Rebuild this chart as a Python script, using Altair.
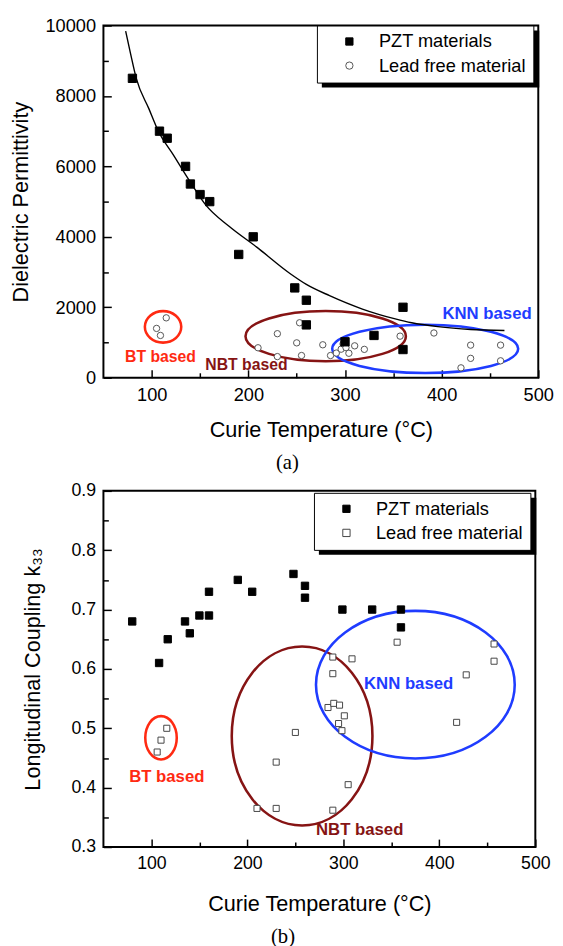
import altair as alt
import pandas as pd

FONT = "Liberation Sans"
SERIES = ["PZT materials", "Lead free material"]

# ---------------- panel (a): dielectric permittivity ----------------
pzt_a_temp = [80, 108, 116, 135, 140, 150, 160, 190, 205, 248, 260, 260, 300, 330, 360, 360]
pzt_a_perm = [8500, 7000, 6800, 6000, 5500, 5200, 5000, 3500, 4000, 2550, 2200, 1500, 1020, 1200, 2000, 800]

lf_a_temp = [105, 109, 115, 210, 230, 230, 250, 253, 255, 277, 285, 291, 296, 298, 301, 304, 310, 320,
             357, 392, 420, 430, 430, 461, 461]
lf_a_perm = [1400, 1200, 1700, 850, 1250, 600, 990, 1560, 630, 935, 630, 700, 810, 960, 855, 694, 905, 805,
             1180, 1270, 280, 925, 550, 925, 480]

fit_temp = [73, 78, 84, 97, 107, 122, 140, 156, 180, 209, 243, 260, 284, 318, 352, 369, 396, 430, 465]
fit_perm = [9840, 9210, 8500, 7640, 6990, 6340, 5550, 4900, 4300, 3700, 2960, 2650, 2330, 1950, 1670,
            1560, 1450, 1370, 1340]

groups_a = ["BT", "NBT", "KNN"]
groups_a_temp = [111.7, 280, 383]
groups_a_val = [1444, 1180, 819]

labels_a = ["BT based", "NBT based", "KNN based"]
labels_a_temp = [109, 198, 447]
labels_a_val = [583, 361, 1805]

# ---------------- panel (b): coupling k33 ----------------
pzt_b_temp = [80, 108, 117, 135, 140, 150, 160, 160, 190, 205, 248, 260, 260, 299, 330, 360, 360]
pzt_b_k33 = [0.68, 0.61, 0.65, 0.68, 0.66, 0.69, 0.69, 0.73, 0.75, 0.73, 0.76, 0.74, 0.72, 0.70, 0.70,
             0.70, 0.67]

lf_b_temp = [106, 110, 116, 210, 230, 230, 250, 289, 309, 289, 284, 290, 296, 301, 295, 298.5, 305, 289,
             356, 418, 428, 457, 457]
lf_b_k33 = [0.46, 0.48, 0.50, 0.365, 0.365, 0.443, 0.493, 0.62, 0.617, 0.592, 0.535, 0.542, 0.539, 0.521,
            0.508, 0.496, 0.405, 0.362, 0.645, 0.51, 0.59, 0.642, 0.613]

groups_b = ["BT", "NBT", "KNN"]
groups_b_temp = [110, 257, 375]
groups_b_val = [0.484, 0.487, 0.5735]

labels_b = ["BT based", "NBT based", "KNN based"]
labels_b_temp = [116, 317, 368]
labels_b_val = [0.418, 0.328, 0.575]

x_major = [100, 200, 300, 400, 500]
x_minor = [150, 250, 350, 450]
ya_major = [0, 2000, 4000, 6000, 8000, 10000]
ya_minor = [1000, 3000, 5000, 7000, 9000]
yb_major = [0.3, 0.4, 0.5, 0.6, 0.7, 0.8, 0.9]
yb_minor = [0.35, 0.45, 0.55, 0.65, 0.75, 0.85]

# ---------------- styles ----------------
GROUP_COLOR = {"BT": "#ff2a12", "NBT": "#861414", "KNN": "#1f3cff"}
# outline half-widths / half-heights in pixels
ELL_A = {"BT": (18.5, 16), "NBT": (81.5, 25.5), "KNN": (94.5, 24.5)}
ELL_B = {"BT": (16, 22), "NBT": (71.5, 91), "KNN": (101, 75)}

W_A, H_A = 442, 358
W_B, H_B = 439, 362


def ellipse_shape(a, b):
    m = max(a, b)
    A, B = a / m, b / m
    k = 0.5523
    f = lambda v: f"{v:.4f}"
    path = (f"M {f(-A)} 0 C {f(-A)} {f(-k*B)} {f(-k*A)} {f(-B)} 0 {f(-B)} "
            f"C {f(k*A)} {f(-B)} {f(A)} {f(-k*B)} {f(A)} 0 "
            f"C {f(A)} {f(k*B)} {f(k*A)} {f(B)} 0 {f(B)} "
            f"C {f(-k*A)} {f(B)} {f(-A)} {f(k*B)} {f(-A)} 0 Z")
    return path, (2 * m) ** 2


def tick_x_axis(values, size, height):
    return alt.Axis(orient="top", offset=-height, values=values, labels=False, domain=False,
                    grid=False, ticks=True, tickSize=size, tickWidth=1.5, tickColor="black",
                    title=None)


def tick_y_axis(values, size, width):
    return alt.Axis(orient="right", offset=-width, values=values, labels=False, domain=False,
                    grid=False, ticks=True, tickSize=size, tickWidth=1.5, tickColor="black",
                    title=None)


def legend_def(lx, ly):
    return alt.Legend(title=None, orient="none", legendX=lx, legendY=ly, fillColor="white",
                      strokeColor="black", padding=7, symbolSize=55, symbolStrokeWidth=1,
                      symbolOffset=16.75, labelOffset=20.75, labelFont=FONT, labelFontSize=18.5,
                      labelColor="black", rowPadding=5.5)


def panel(pzt_t, pzt_v, lf_t, lf_v, g_names, g_t, g_v, ell, l_names, l_t, l_v,
          yscale, y_major, y_minor, y_fmt, y_title, width, height, lf_shape, lf_stroke,
          pzt_size, lf_size, label_fs, tick_fs, y_title_pad, x_title_pad, legend_xy,
          shadow, caption, caption_dx, fit=None):
    xscale = alt.Scale(domain=[50, 500], nice=False, zero=False)
    leg = legend_def(*legend_xy)
    shape_sc = alt.Scale(domain=SERIES, range=["square", lf_shape])
    fill_sc = alt.Scale(domain=SERIES, range=["black", "white"])
    stroke_sc = alt.Scale(domain=SERIES, range=["black", lf_stroke])

    pzt_df = pd.DataFrame({"t": pzt_t, "v": pzt_v, "series": SERIES[0]})
    lf_df = pd.DataFrame({"t": lf_t, "v": lf_v, "series": SERIES[1]})

    def series_enc():
        return dict(
            shape=alt.Shape("series:N", scale=shape_sc, legend=leg),
            fill=alt.Fill("series:N", scale=fill_sc, legend=leg),
            stroke=alt.Stroke("series:N", scale=stroke_sc, legend=leg),
        )

    main_x = alt.Axis(orient="bottom", values=x_major, ticks=False, domain=False, grid=False,
                      labelFlush=False,
                      labelFont=FONT, labelFontSize=tick_fs, labelColor="black", labelPadding=8,
                      title="Curie Temperature (°C)", titleFont=FONT, titleFontSize=22,
                      titleFontWeight="normal", titleColor="black", titlePadding=x_title_pad)
    main_y = alt.Axis(orient="left", values=y_major, format=y_fmt, ticks=False, domain=False,
                      grid=False, labelFont=FONT, labelFontSize=tick_fs, labelColor="black",
                      labelPadding=8, title=y_title, titleFont=FONT, titleFontSize=22,
                      titleFontWeight="normal", titleColor="black", titlePadding=y_title_pad)

    layers = []
    # group outlines (the first two also carry the inward tick marks)
    for i, g in enumerate(g_names):
        path, size = ellipse_shape(*ell[g])
        df = pd.DataFrame({"t": [g_t[i]], "v": [g_v[i]]})
        if i == 0:
            xa, ya = tick_x_axis(x_minor, 5, height), tick_y_axis(y_minor, 5, width)
        elif i == 1:
            xa, ya = tick_x_axis(x_major, 8, height), tick_y_axis(y_major, 8, width)
        else:
            xa, ya = None, None
        layers.append(
            alt.Chart(df).mark_point(shape=path, size=size, filled=False, stroke=GROUP_COLOR[g],
                                     strokeWidth=2.6, opacity=1)
            .encode(x=alt.X("t:Q", scale=xscale, axis=xa), y=alt.Y("v:Q", scale=yscale, axis=ya))
        )
    if fit is not None:
        fdf = pd.DataFrame({"t": fit[0], "v": fit[1]})
        layers.append(
            alt.Chart(fdf).mark_line(color="black", strokeWidth=1.4, interpolate="monotone")
            .encode(x=alt.X("t:Q", scale=xscale, axis=None), y=alt.Y("v:Q", scale=yscale, axis=None))
        )
    layers.append(
        alt.Chart(lf_df).mark_point(filled=True, opacity=1, size=lf_size, strokeWidth=1)
        .encode(x=alt.X("t:Q", scale=xscale, axis=None), y=alt.Y("v:Q", scale=yscale, axis=None),
                **series_enc())
    )
    layers.append(
        alt.Chart(pzt_df).mark_point(filled=True, opacity=1, size=pzt_size, strokeWidth=1)
        .encode(x=alt.X("t:Q", scale=xscale, axis=main_x), y=alt.Y("v:Q", scale=yscale, axis=main_y),
                **series_enc())
    )
    for i, name in enumerate(l_names):
        g = g_names[i]
        df = pd.DataFrame({"t": [l_t[i]], "v": [l_v[i]], "txt": [name]})
        layers.append(
            alt.Chart(df).mark_text(font=FONT, fontSize=label_fs[i], fontWeight="bold",
                                    color=GROUP_COLOR[g], align="center", baseline="middle")
            .encode(x=alt.X("t:Q", scale=xscale, axis=None), y=alt.Y("v:Q", scale=yscale, axis=None),
                    text="txt:N")
        )
    # legend drop shadow (a filled box symbol behind the legend)
    cx, cy, sw, sh = shadow
    box = f"M -1 {-sh / sw:.4f} L 1 {-sh / sw:.4f} L 1 {sh / sw:.4f} L -1 {sh / sw:.4f} Z"
    layers.append(
        alt.Chart(pd.DataFrame({"lab": [caption]}))
        .mark_point(shape=box, size=sw ** 2, filled=True, fill="black", strokeWidth=0, opacity=1)
        .encode(x=alt.value(cx), y=alt.value(cy))
    )
    return (
        alt.layer(*layers)
        .resolve_axis(x="independent", y="independent")
        .properties(width=width, height=height,
                    title=alt.TitleParams(caption, orient="bottom", font="Liberation Serif",
                                          fontSize=21, fontWeight="normal", color="black",
                                          offset=12, anchor="middle", frame="bounds",
                                          dx=caption_dx))
    )


top = panel(pzt_a_temp, pzt_a_perm, lf_a_temp, lf_a_perm, groups_a, groups_a_temp, groups_a_val,
            ELL_A, labels_a, labels_a_temp, labels_a_val,
            alt.Scale(domain=[0, 10000], nice=False, zero=False), ya_major, ya_minor, "d",
            "Dielectric Permittivity", W_A, H_A, "circle", "#555555", 72, 42, [16, 16, 17], 18.5,
            13, 16, (217, 0), (217 + 5 + 110.5, 0 + 5 + 29, 221, 58), "(a)", 6, fit=(fit_temp, fit_perm))

bottom = panel(pzt_b_temp, pzt_b_k33, lf_b_temp, lf_b_k33, groups_b, groups_b_temp, groups_b_val,
               ELL_B, labels_b, labels_b_temp, labels_b_val,
               alt.Scale(domain=[0.3, 0.9], nice=False, zero=False), yb_major, yb_minor, ".1f",
               "Longitudinal Coupling k₃₃", W_B, H_B, "square", "#444444", 56, 38, [17, 17, 17], 18,
               27, 22, (214, 2), (214 + 5 + 110.5, 2 + 5 + 29, 221, 58), "(b)", -3)

chart = (
    alt.vconcat(top, bottom, spacing=115, bounds="flush")
    .resolve_scale(shape="independent", fill="independent", stroke="independent")
    .properties(padding={"left": 0, "top": 0, "right": 0, "bottom": 0})
    .configure(background="white")
    .configure_view(stroke="black", strokeWidth=2)
)

chart.save("out.html", embed_options={"renderer": "svg", "actions": False})
